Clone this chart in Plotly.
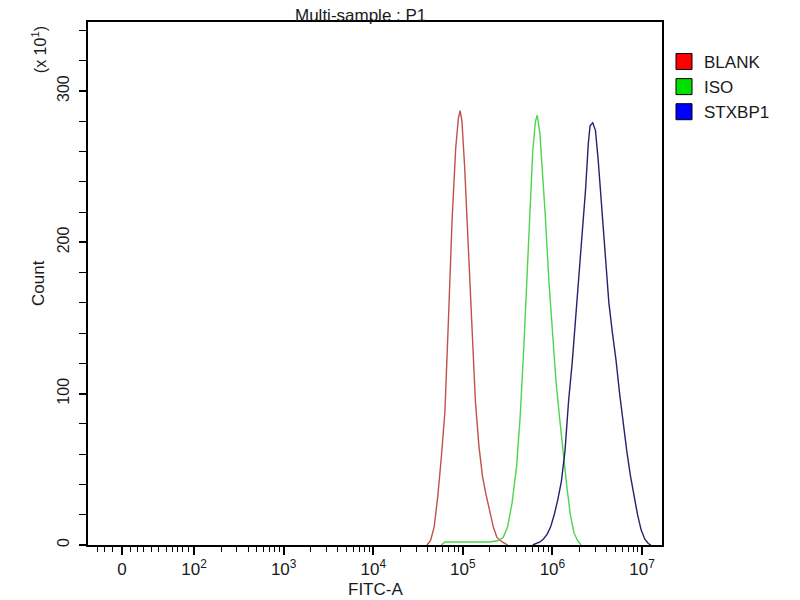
import plotly.graph_objects as go

# histogram curves, x as log10(FITC-A), y as count (x 10^1)
blank_exp = [4.60, 4.64, 4.68, 4.72, 4.76, 4.80, 4.84, 4.88, 4.92, 4.95, 4.97, 4.99,
             5.02, 5.06, 5.10, 5.14, 5.18, 5.22, 5.26, 5.30, 5.34, 5.38, 5.44, 5.50]
blank_cnt = [0, 3, 12, 32, 58, 88, 150, 215, 262, 282, 287, 280,
             250, 200, 140, 95, 65, 45, 33, 22, 12, 5, 2, 0]

iso_exp = [4.76, 4.80, 4.90, 5.00, 5.10, 5.20, 5.30, 5.40, 5.45, 5.50, 5.55, 5.60,
           5.64, 5.68, 5.72, 5.75, 5.78, 5.81, 5.83, 5.86, 5.89, 5.92, 5.96, 6.00,
           6.04, 6.08, 6.12, 6.16, 6.20, 6.24, 6.28, 6.32]
iso_cnt = [0, 2, 2, 2, 2, 2, 2, 3, 5, 12, 28, 52,
           85, 130, 185, 225, 260, 280, 284, 272, 248, 218, 175, 140,
           108, 84, 60, 39, 20, 8, 3, 0]

stx_exp = [5.78, 5.82, 5.86, 5.90, 5.94, 5.98, 6.02, 6.06, 6.10, 6.14, 6.18, 6.22,
           6.26, 6.30, 6.34, 6.37, 6.40, 6.42, 6.45, 6.48, 6.51, 6.55, 6.59, 6.63,
           6.67, 6.71, 6.75, 6.79, 6.83, 6.87, 6.91, 6.95, 6.99, 7.03, 7.07, 7.10]
stx_cnt = [0, 1, 2, 4, 7, 12, 20, 30, 42, 62, 95, 120,
           150, 185, 215, 235, 265, 277, 279, 274, 255, 225, 190, 160,
           140, 122, 100, 80, 62, 46, 33, 20, 10, 4, 1, 0]

names = ["BLANK", "ISO", "STXBP1"]
line_colors = ["#c0504a", "#4cd64c", "#23236e"]
box_colors = ["#ff0000", "#00e000", "#0000ff"]

# axis ticks (biexponential display: "0" sits in the linear part)
major_exp = [1.196, 2, 3, 4, 5, 6, 7]
major_text = ["0", "10<sup>2</sup>", "10<sup>3</sup>", "10<sup>4</sup>",
              "10<sup>5</sup>", "10<sup>6</sup>", "10<sup>7</sup>"]
linear_minor_exp = [0.917, 0.996, 1.085, 1.286, 1.364, 1.431, 1.520,
                    1.598, 1.688, 1.754, 1.810, 1.866, 1.933]

font = "Liberation Sans, Arial, sans-serif"
txt = "#1a1a1a"

fig = go.Figure()
series = [(blank_exp, blank_cnt), (iso_exp, iso_cnt), (stx_exp, stx_cnt)]
for (ex, cnt), name, col in zip(series, names, line_colors):
    fig.add_trace(go.Scatter(
        x=[10 ** e for e in ex], y=cnt, mode="lines", name=name,
        line=dict(color=col, width=1.4), showlegend=False,
    ))

# square legend swatches
for name, col in zip(names, box_colors):
    fig.add_trace(go.Scatter(
        x=[None], y=[None], mode="markers", name=name,
        marker=dict(symbol="square", size=18, color=col,
                    line=dict(color="black", width=1)),
    ))

minor_vals = [10 ** e for e in linear_minor_exp]
minor_vals += [m * 10 ** d for d in range(2, 7) for m in range(2, 10)]

fig.update_xaxes(
    type="log", range=[0.816, 7.223],
    tickmode="array", tickvals=[10 ** e for e in major_exp], ticktext=major_text,
    ticks="outside", ticklen=8, tickwidth=1.5, tickcolor="black",
    minor=dict(tickmode="array", tickvals=minor_vals, ticks="outside",
               ticklen=5, tickwidth=1.2, tickcolor="black", showgrid=False),
    showline=True, linecolor="black", linewidth=1.6, mirror=True,
    showgrid=False, zeroline=False,
    tickfont=dict(family=font, size=17, color=txt),
)
fig.update_yaxes(
    range=[0, 345.6],
    tickmode="array", tickvals=[0, 100, 200, 300],
    ticks="outside", ticklen=7, tickwidth=1.5, tickcolor="black",
    minor=dict(dtick=20, ticks="outside", ticklen=7, tickwidth=1.2,
               tickcolor="black", showgrid=False),
    showline=True, linecolor="black", linewidth=1.6, mirror=True,
    showgrid=False, zeroline=False, tickangle=-90, ticklabelstandoff=4,
    tickfont=dict(family=font, size=16, color=txt),
)

ann = dict(xref="paper", yref="paper", showarrow=False,
           xanchor="center", yanchor="middle")
fig.add_annotation(text="Multi-sample : P1", x=0.474, y=1.013,
                   font=dict(family=font, size=17, color=txt), **ann)
fig.add_annotation(text="FITC-A", x=0.5, y=-0.086,
                   font=dict(family=font, size=17, color=txt), **ann)
fig.add_annotation(text="Count", x=-0.0854, y=0.501, textangle=-90,
                   font=dict(family=font, size=17, color=txt), **ann)
fig.add_annotation(text="(x 10<sup>1</sup>)", x=-0.0854, y=0.948, textangle=-90,
                   font=dict(family=font, size=16, color=txt), **ann)

fig.update_layout(
    width=800, height=600,
    margin=dict(l=80, r=146, t=14, b=63),
    plot_bgcolor="white", paper_bgcolor="white",
    legend=dict(x=1.0035, y=0.958, xanchor="left", yanchor="top",
                font=dict(family=font, size=17, color=txt),
                tracegroupgap=0, bgcolor="rgba(0,0,0,0)"),
)

fig.write_html("out.html")
